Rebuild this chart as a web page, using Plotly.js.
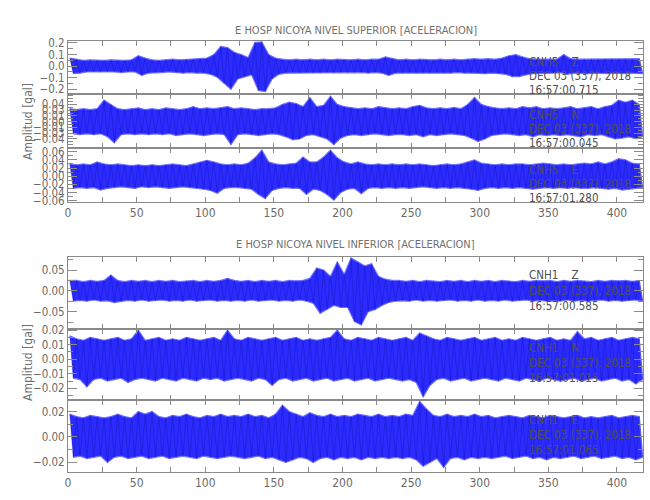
<!DOCTYPE html>
<html><head><meta charset="utf-8">
<script src="https://cdn.plot.ly/plotly-3.0.1.min.js"></script>
<style>html,body{margin:0;padding:0;background:#fff}#chart{width:650px;height:500px}</style>
</head><body><div id="chart"></div>
<script>
const binSeconds = 5;

// E HOSP NICOYA NIVEL SUPERIOR
const zSupHi = [0.07,0.06,0.05,0.055,0.05,0.05,0.055,0.05,0.05,0.055,0.09,0.07,
  0.055,0.05,0.055,0.06,0.055,0.06,0.06,0.065,0.07,0.10,0.17,0.16,
  0.12,0.10,0.075,0.205,0.21,0.10,0.07,0.06,0.055,0.06,0.055,0.06,
  0.055,0.06,0.055,0.06,0.055,0.055,0.06,0.055,0.06,0.06,0.08,0.065,
  0.055,0.06,0.055,0.06,0.055,0.055,0.06,0.055,0.06,0.055,0.06,0.065,
  0.06,0.065,0.06,0.07,0.09,0.10,0.08,0.065,0.06,0.06,0.055,0.06,
  0.10,0.065,0.06,0.06,0.065,0.06,0.06,0.065,0.06,0.065,0.06,0.065];
const zSupLo = [-0.065,-0.06,-0.05,-0.05,-0.055,-0.05,-0.05,-0.055,-0.05,-0.05,-0.08,-0.06,
  -0.055,-0.055,-0.05,-0.055,-0.06,-0.055,-0.06,-0.06,-0.07,-0.095,-0.15,-0.20,
  -0.11,-0.095,-0.075,-0.21,-0.22,-0.11,-0.07,-0.06,-0.055,-0.06,-0.055,-0.06,
  -0.06,-0.055,-0.06,-0.055,-0.06,-0.055,-0.055,-0.06,-0.055,-0.06,-0.08,-0.06,
  -0.06,-0.055,-0.06,-0.055,-0.06,-0.055,-0.06,-0.06,-0.055,-0.06,-0.06,-0.06,
  -0.065,-0.06,-0.065,-0.07,-0.09,-0.09,-0.075,-0.065,-0.06,-0.06,-0.06,-0.055,
  -0.07,-0.06,-0.06,-0.065,-0.06,-0.06,-0.065,-0.06,-0.065,-0.06,-0.06,-0.065];
const nSupHi = [0.03,0.028,0.03,0.028,0.03,0.05,0.04,0.03,0.028,0.03,0.032,0.028,
  0.03,0.028,0.032,0.03,0.028,0.03,0.035,0.03,0.032,0.03,0.032,0.035,
  0.03,0.032,0.03,0.028,0.03,0.03,0.032,0.04,0.045,0.042,0.035,0.056,
  0.035,0.038,0.059,0.04,0.035,0.032,0.03,0.032,0.03,0.035,0.032,0.03,
  0.032,0.03,0.035,0.038,0.032,0.03,0.032,0.03,0.033,0.03,0.04,0.056,
  0.04,0.035,0.032,0.03,0.032,0.03,0.035,0.032,0.035,0.03,0.032,0.03,
  0.032,0.035,0.03,0.032,0.035,0.03,0.035,0.038,0.05,0.045,0.05,0.04];
const nSupLo = [-0.028,-0.03,-0.028,-0.03,-0.028,-0.035,-0.049,-0.03,-0.028,-0.03,-0.028,-0.03,
  -0.028,-0.03,-0.028,-0.032,-0.03,-0.028,-0.03,-0.032,-0.03,-0.028,-0.03,-0.053,
  -0.03,-0.028,-0.03,-0.032,-0.03,-0.028,-0.03,-0.035,-0.042,-0.04,-0.032,-0.03,
  -0.035,-0.04,-0.053,-0.038,-0.032,-0.03,-0.032,-0.03,-0.028,-0.03,-0.032,-0.03,
  -0.03,-0.032,-0.03,-0.035,-0.03,-0.032,-0.03,-0.028,-0.03,-0.032,-0.038,-0.046,
  -0.04,-0.032,-0.03,-0.028,-0.03,-0.032,-0.03,-0.035,-0.03,-0.032,-0.03,-0.032,
  -0.03,-0.032,-0.035,-0.03,-0.032,-0.03,-0.035,-0.04,-0.038,-0.035,-0.04,-0.035];
const eSupHi = [0.03,0.028,0.03,0.028,0.035,0.03,0.028,0.03,0.028,0.026,0.028,0.026,
  0.028,0.026,0.028,0.03,0.028,0.026,0.03,0.035,0.039,0.035,0.03,0.028,
  0.03,0.028,0.032,0.045,0.064,0.035,0.03,0.028,0.03,0.032,0.047,0.035,
  0.035,0.047,0.064,0.045,0.035,0.03,0.035,0.03,0.028,0.03,0.028,0.03,
  0.028,0.03,0.028,0.03,0.028,0.026,0.028,0.03,0.028,0.03,0.035,0.04,
  0.032,0.03,0.028,0.03,0.028,0.03,0.03,0.028,0.03,0.032,0.03,0.028,
  0.03,0.028,0.03,0.032,0.03,0.035,0.03,0.035,0.043,0.04,0.032,0.03];
const eSupLo = [-0.03,-0.028,-0.03,-0.028,-0.034,-0.03,-0.028,-0.026,-0.028,-0.03,-0.026,-0.028,
  -0.026,-0.028,-0.03,-0.028,-0.026,-0.028,-0.03,-0.032,-0.035,-0.042,-0.03,-0.028,
  -0.028,-0.03,-0.032,-0.045,-0.055,-0.035,-0.03,-0.028,-0.03,-0.03,-0.045,-0.032,
  -0.035,-0.045,-0.059,-0.04,-0.032,-0.03,-0.043,-0.03,-0.028,-0.03,-0.028,-0.03,
  -0.028,-0.03,-0.028,-0.026,-0.028,-0.03,-0.028,-0.03,-0.028,-0.03,-0.032,-0.035,
  -0.03,-0.028,-0.03,-0.028,-0.03,-0.028,-0.03,-0.032,-0.03,-0.028,-0.03,-0.028,
  -0.03,-0.028,-0.03,-0.03,-0.028,-0.03,-0.032,-0.03,-0.034,-0.032,-0.03,-0.028];

// E HOSP NICOYA NIVEL INFERIOR
const zInfHi = [0.025,0.025,0.022,0.025,0.023,0.025,0.038,0.025,0.022,0.025,0.023,0.025,
  0.022,0.025,0.023,0.025,0.022,0.024,0.025,0.022,0.025,0.023,0.025,0.03,
  0.025,0.023,0.025,0.022,0.025,0.023,0.025,0.022,0.025,0.024,0.025,0.03,
  0.055,0.05,0.035,0.07,0.04,0.079,0.07,0.06,0.065,0.035,0.028,0.025,
  0.025,0.023,0.025,0.022,0.025,0.024,0.022,0.025,0.023,0.025,0.022,0.025,
  0.023,0.025,0.022,0.025,0.024,0.022,0.025,0.023,0.025,0.024,0.025,0.022,
  0.025,0.023,0.025,0.024,0.022,0.025,0.023,0.025,0.024,0.025,0.023,0.025];
const zInfLo = [-0.025,-0.023,-0.025,-0.022,-0.025,-0.024,-0.028,-0.025,-0.023,-0.025,-0.022,-0.025,
  -0.024,-0.022,-0.025,-0.023,-0.025,-0.022,-0.025,-0.024,-0.022,-0.025,-0.023,-0.025,
  -0.023,-0.025,-0.022,-0.025,-0.024,-0.022,-0.025,-0.023,-0.025,-0.022,-0.025,-0.03,
  -0.054,-0.045,-0.035,-0.04,-0.04,-0.074,-0.082,-0.05,-0.045,-0.035,-0.028,-0.025,
  -0.024,-0.025,-0.022,-0.025,-0.023,-0.025,-0.024,-0.022,-0.025,-0.023,-0.025,-0.022,
  -0.025,-0.023,-0.025,-0.022,-0.025,-0.024,-0.022,-0.025,-0.023,-0.025,-0.024,-0.025,
  -0.022,-0.025,-0.023,-0.025,-0.024,-0.022,-0.025,-0.023,-0.025,-0.024,-0.022,-0.025];
const nInfHi = [0.016,0.014,0.013,0.015,0.014,0.013,0.014,0.015,0.013,0.014,0.02,0.013,
  0.014,0.015,0.013,0.014,0.013,0.015,0.014,0.013,0.014,0.015,0.013,0.02,
  0.014,0.013,0.015,0.014,0.013,0.014,0.015,0.013,0.014,0.015,0.013,0.014,
  0.013,0.014,0.015,0.02,0.014,0.013,0.015,0.014,0.013,0.015,0.014,0.013,
  0.014,0.015,0.013,0.018,0.016,0.014,0.013,0.015,0.014,0.013,0.014,0.015,
  0.013,0.014,0.015,0.013,0.014,0.013,0.015,0.014,0.013,0.014,0.015,0.013,
  0.014,0.013,0.019,0.014,0.015,0.013,0.014,0.015,0.013,0.014,0.015,0.014];
const nInfLo = [-0.013,-0.014,-0.019,-0.014,-0.013,-0.015,-0.014,-0.013,-0.016,-0.014,-0.013,-0.014,
  -0.015,-0.013,-0.014,-0.015,-0.013,-0.014,-0.015,-0.013,-0.014,-0.013,-0.015,-0.014,
  -0.013,-0.014,-0.015,-0.013,-0.014,-0.018,-0.014,-0.013,-0.015,-0.014,-0.013,-0.015,
  -0.014,-0.013,-0.015,-0.014,-0.013,-0.015,-0.014,-0.013,-0.015,-0.014,-0.013,-0.014,
  -0.015,-0.014,-0.016,-0.026,-0.018,-0.014,-0.013,-0.015,-0.014,-0.013,-0.015,-0.014,
  -0.013,-0.014,-0.015,-0.013,-0.014,-0.015,-0.013,-0.014,-0.015,-0.013,-0.014,-0.015,
  -0.014,-0.013,-0.015,-0.014,-0.013,-0.015,-0.014,-0.013,-0.015,-0.014,-0.017,-0.014];
const eInfHi = [0.018,0.016,0.015,0.017,0.016,0.015,0.016,0.018,0.016,0.015,0.02,0.018,
  0.02,0.016,0.015,0.017,0.016,0.018,0.016,0.015,0.017,0.016,0.018,0.016,
  0.017,0.016,0.018,0.016,0.017,0.015,0.018,0.025,0.02,0.018,0.016,0.019,
  0.017,0.016,0.018,0.016,0.017,0.016,0.018,0.017,0.016,0.018,0.016,0.017,
  0.016,0.018,0.017,0.028,0.022,0.017,0.016,0.018,0.016,0.017,0.016,0.018,
  0.016,0.017,0.015,0.016,0.017,0.016,0.015,0.017,0.016,0.015,0.017,0.016,
  0.015,0.016,0.017,0.015,0.016,0.015,0.016,0.017,0.015,0.016,0.017,0.016];
const eInfLo = [-0.016,-0.015,-0.017,-0.016,-0.015,-0.02,-0.016,-0.015,-0.017,-0.016,-0.015,-0.017,
  -0.016,-0.015,-0.017,-0.016,-0.015,-0.016,-0.017,-0.015,-0.016,-0.017,-0.016,-0.015,
  -0.016,-0.017,-0.016,-0.015,-0.017,-0.016,-0.018,-0.02,-0.018,-0.016,-0.017,-0.02,
  -0.017,-0.016,-0.018,-0.016,-0.017,-0.016,-0.018,-0.016,-0.017,-0.016,-0.017,-0.016,
  -0.017,-0.016,-0.018,-0.023,-0.02,-0.017,-0.024,-0.017,-0.016,-0.018,-0.016,-0.017,
  -0.016,-0.017,-0.016,-0.015,-0.017,-0.016,-0.015,-0.017,-0.016,-0.018,-0.016,-0.017,
  -0.016,-0.015,-0.017,-0.016,-0.015,-0.017,-0.016,-0.015,-0.017,-0.016,-0.018,-0.016];

const stations = ["CNH5\u00a0\u00a0\u00a0\u00a0Z","CNH5\u00a0\u00a0\u00a0\u00a0N","CNH5\u00a0\u00a0\u00a0\u00a0E",
                  "CNH1\u00a0\u00a0\u00a0\u00a0Z","CNH1\u00a0\u00a0\u00a0\u00a0N","CNH1\u00a0\u00a0\u00a0\u00a0E"];
const dateLabel = "DEC 03 (337), 2018";
const startTimes = ["16:57:00.715","16:57:00.045","16:57:01.280","16:57:00.585","16:57:01.015","16:57:01.065"];
const panelTitles = ["E HOSP NICOYA NIVEL SUPERIOR [ACELERACION]","E HOSP NICOYA NIVEL INFERIOR [ACELERACION]"];
const yTitle = "Amplitud [gal]";
const xTickVals = [0,50,100,150,200,250,300,350,400];
const yTicks = [
  {vals:[-0.2,-0.1,0,0.1,0.2], text:["\u22120.2","\u22120.1","0.0","0.1","0.2"], minor:0.05},
  {vals:[-0.04,-0.04*2/3,-0.04/3,0,0.04/3,0.04*2/3,0.04], text:["\u22120.04","\u22120.03","\u22120.01","0.00","0.01","0.03","0.04"], minor:0.04/6},
  {vals:[-0.06,-0.04,-0.02,0,0.02,0.04,0.06], text:["\u22120.06","\u22120.04","\u22120.02","0.00","0.02","0.04","0.06"], minor:0.01},
  {vals:[-0.05,0,0.05], text:["\u22120.05","0.00","0.05"], minor:0.025},
  {vals:[-0.02,-0.01,0,0.01,0.02], text:["\u22120.02","\u22120.01","0.00","0.01","0.02"], minor:0.005},
  {vals:[-0.02,0,0.02], text:["\u22120.02","0.00","0.02"], minor:0.01}
];

const series = [[zSupHi,zSupLo],[nSupHi,nSupLo],[eSupHi,eSupLo],[zInfHi,zInfLo],[nInfHi,nInfLo],[eInfHi,eInfLo]];

// layout geometry
const domains = [[0.877,1],[0.7526,0.877],[0.6272,0.7526],[0.3318,0.4995],[0.167,0.3318],[0,0.167]];
const yRanges = [[-0.24,0.217],[-0.06,0.064],[-0.0625,0.07],[-0.0916,0.082],[-0.028,0.0207],[-0.0275,0.029]];
const labelY = [[0.952,0.9188,0.8863],[0.8283,0.7947,0.7622],[0.7007,0.6682,0.6357],
                [0.4571,0.42,0.3852],[0.2877,0.2529,0.2181],[0.1206,0.0858,0.051]];

const FONT = "'DejaVu Sans Condensed','DejaVu Sans',sans-serif";
const AXC = "#8a8a8a", TXC = "#6a6a6a";

const traces = [];
const layout = {
  width:650, height:500, margin:{l:68,r:7,t:41,b:28},
  paper_bgcolor:"#fff", plot_bgcolor:"#fff", showlegend:false,
  font:{family:FONT, color:TXC, size:11},
  annotations:[],
};

series.forEach((s,k)=>{
  const hi = s[0], lo = s[1];
  const xs = k===0 ? "" : String(k+1);
  const hx = hi.map((v,i)=>i*binSeconds+binSeconds*0.25);
  const lx = lo.map((v,i)=>i*binSeconds+binSeconds*0.75);
  // envelope band
  traces.push({type:"scatter", mode:"lines", xaxis:"x"+xs, yaxis:"y"+xs,
    x: hx.concat(lx.slice().reverse()), y: hi.concat(lo.slice().reverse()),
    fill:"toself", fillcolor:"rgba(25,25,255,0.92)", line:{width:1.2, color:"rgba(110,110,255,0.9)"}, hoverinfo:"skip"});
  // peak-to-peak trace
  const zx=[], zy=[];
  hi.forEach((v,i)=>{ zx.push(hx[i]); zy.push(v); zx.push(lx[i]); zy.push(lo[i]); });
  traces.push({type:"scatter", mode:"lines", xaxis:"x"+xs, yaxis:"y"+xs,
    x:zx, y:zy, line:{color:"rgba(0,0,110,0.35)", width:0.6}, hoverinfo:"skip"});

  const showX = (k===2 || k===5);
  layout["xaxis"+xs] = {domain:[0,1], anchor:"y"+xs, range:[0,419],
    showline:true, linecolor:AXC, linewidth:1, mirror:"ticks", ticks:"inside", ticklen:5, tickcolor:AXC,
    tickmode:"array", tickvals:xTickVals, ticktext:xTickVals.map(String),
    showticklabels:showX, tickfont:{family:FONT,size:12,color:TXC},
    minor:{tickmode:"linear", tick0:0, dtick:25, ticks:"inside", ticklen:5, tickcolor:AXC},
    showgrid:false, zeroline:false, fixedrange:true};
  layout["yaxis"+xs] = {domain:domains[k], anchor:"x"+xs, range:yRanges[k],
    showline:true, linecolor:AXC, linewidth:1, mirror:"ticks", ticks:"inside", ticklen:9, tickcolor:AXC,
    tickmode:"array", tickvals:yTicks[k].vals, ticktext:yTicks[k].text,
    tickfont:{family:FONT,size:11.5,color:TXC},
    minor:{tickmode:"linear", tick0:0, dtick:yTicks[k].minor, ticks:"inside", ticklen:5, tickcolor:AXC},
    showgrid:false, zeroline:false, fixedrange:true};

  const lines = [stations[k], dateLabel, startTimes[k]];
  lines.forEach((t,j)=>{
    layout.annotations.push({xref:"paper", yref:"paper", x:0.798, y:labelY[k][j], xanchor:"left", yanchor:"middle",
      text:t, showarrow:false, font:{family:FONT, size:11.5, color:"#505050"}});
  });
});

layout.annotations.push({xref:"paper", yref:"paper", x:0.5, y:1.0255, xanchor:"center", yanchor:"middle",
  text:panelTitles[0], showarrow:false, font:{family:FONT, size:11, color:"#707070"}});
layout.annotations.push({xref:"paper", yref:"paper", x:0.5, y:0.5267, xanchor:"center", yanchor:"middle",
  text:panelTitles[1], showarrow:false, font:{family:FONT, size:11, color:"#707070"}});
layout.annotations.push({xref:"paper", yref:"paper", x:-0.0696, y:0.8144, xanchor:"center", yanchor:"middle",
  text:yTitle, textangle:-90, showarrow:false, font:{family:FONT, size:12, color:"#707070"}});
layout.annotations.push({xref:"paper", yref:"paper", x:-0.0696, y:0.2552, xanchor:"center", yanchor:"middle",
  text:yTitle, textangle:-90, showarrow:false, font:{family:FONT, size:12, color:"#707070"}});

Plotly.newPlot("chart", traces, layout, {staticPlot:true, displayModeBar:false});
</script>
</body></html>
